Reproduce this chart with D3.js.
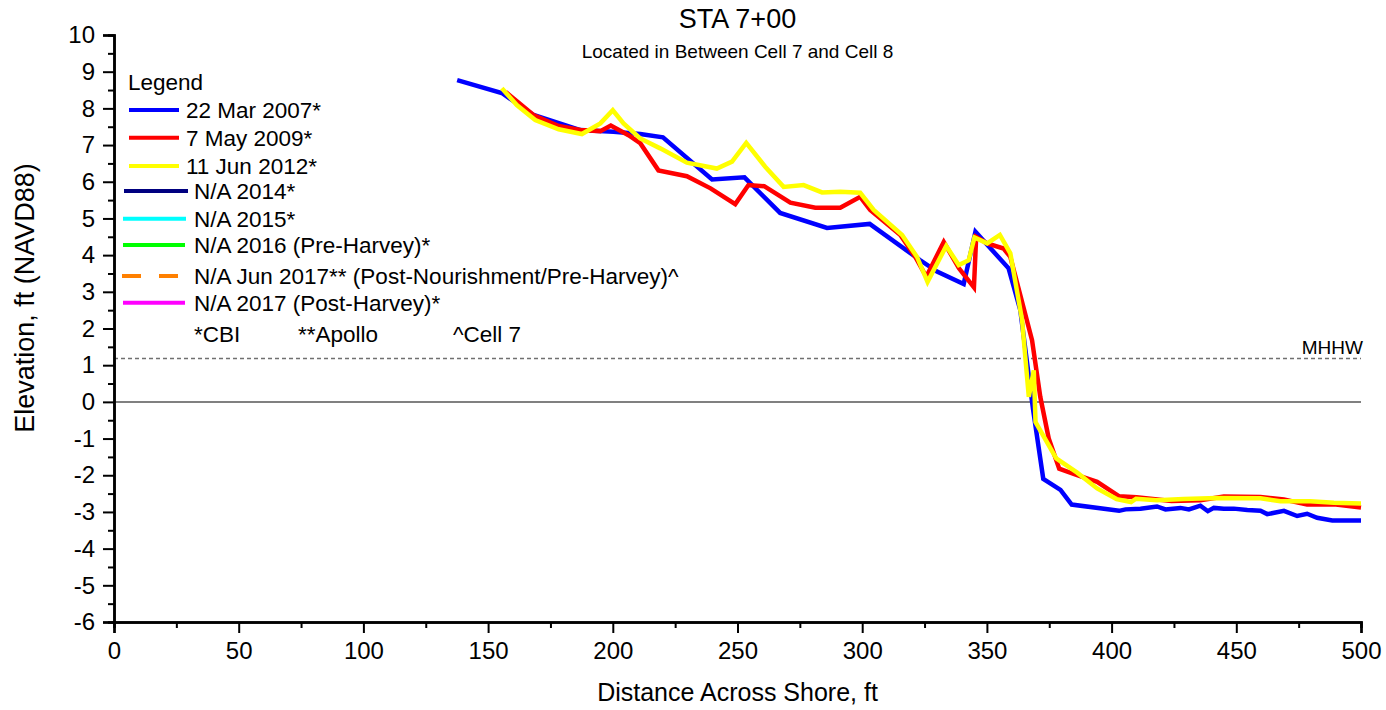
<!DOCTYPE html>
<html>
<head>
<meta charset="utf-8">
<script src="https://cdn.jsdelivr.net/npm/d3@7"></script>
<style>
  html, body { margin: 0; padding: 0; background: #fff; }
  svg { display: block; font-family: "Liberation Sans", Arial, sans-serif; }
</style>
</head>
<body>
<svg id="chart" width="1386" height="710"></svg>
<script>
// Beach profile survey, STA 7+00
const xTicks = [0, 50, 100, 150, 200, 250, 300, 350, 400, 450, 500];
const yTicks = [-6, -5, -4, -3, -2, -1, 0, 1, 2, 3, 4, 5, 6, 7, 8, 9, 10];
const mhhw = 1.18;

const dist2007 = [137.6,155.5,168.2,187,200.3,211,220.1,239.8,252.8,267.1,285.9,303,323.3,330,340.7,345.4,358.7,363.4,368.5,372.6,379.5,384,403,405.6,411.6,418.2,421.6,427.6,431,435.6,438.6,441,445,449,454.4,459.7,462.4,469.1,474.4,478.4,482.4,488.5,500];
const elev2007 = [8.77,8.42,7.82,7.41,7.36,7.30,7.21,6.06,6.12,5.15,4.74,4.85,3.86,3.55,3.21,4.64,3.64,2.5,-0.2,-2.1,-2.40,-2.80,-2.97,-2.93,-2.91,-2.85,-2.93,-2.89,-2.93,-2.83,-2.98,-2.89,-2.91,-2.91,-2.95,-2.97,-3.06,-2.97,-3.11,-3.05,-3.16,-3.23,-3.23];

const dist2009 = [157,168.2,178.3,187,195,199.2,206.3,211,218.3,229.7,239.2,249.1,254.4,260.7,271.2,281.2,291.2,299.2,303.2,315.3,321.3,325.7,332.7,338.8,344.8,345.7,350.1,356.7,359.4,368.1,371.4,374.8,379,386.2,394.2,402.9,410,424,435.6,445,459.7,469.1,478.4,489.1,500];
const elev2009 = [8.45,7.82,7.52,7.41,7.38,7.53,7.27,7.05,6.31,6.15,5.82,5.39,5.91,5.88,5.43,5.29,5.29,5.59,5.23,4.55,3.95,3.41,4.36,3.64,3.12,4.50,4.32,4.18,3.95,1.68,0.14,-1.0,-1.82,-2.0,-2.18,-2.57,-2.60,-2.70,-2.68,-2.58,-2.59,-2.66,-2.80,-2.79,-2.88];

const dist2012 = [155.5,161.5,168.9,178.3,187.6,195,200,204.3,211,219,229.7,241.7,247.8,253.5,261.1,268.5,276.5,283.9,291.2,299.2,304.6,316,322,326.2,333.7,338.7,342.7,345,350.1,355.2,359.4,364.1,366.8,368.8,369.5,377.8,386.2,394.2,402,407.8,409.8,418.2,428.9,442.3,459.7,467.7,479.7,489.1,500];
const elev2012 = [8.55,8.09,7.68,7.43,7.30,7.59,7.95,7.59,7.18,6.91,6.52,6.36,6.55,7.06,6.41,5.86,5.91,5.71,5.73,5.70,5.23,4.55,3.95,3.27,4.25,3.73,3.86,4.48,4.32,4.55,4.05,2.23,0.14,0.86,-0.55,-1.54,-1.93,-2.36,-2.65,-2.73,-2.64,-2.68,-2.65,-2.62,-2.63,-2.71,-2.71,-2.75,-2.77];

const seriesNames = ["22 Mar 2007*", "7 May 2009*", "11 Jun 2012*", "N/A 2014*", "N/A 2015*",
  "N/A 2016 (Pre-Harvey)*", "N/A Jun 2017** (Post-Nourishment/Pre-Harvey)^", "N/A 2017 (Post-Harvey)*"];
const seriesColors = ["#0000ff", "#ff0000", "#ffff00", "#000080", "#00ffff", "#00ff00", "#ff8000", "#ff00ff"];
const seriesDist = [dist2007, dist2009, dist2012, [], [], [], [], []];
const seriesElev = [elev2007, elev2009, elev2012, [], [], [], [], []];
const sourceNotes = ["*CBI", "**Apollo", "^Cell 7"];

const svg = d3.select("#chart");
const plotLeft = 114, plotRight = 1361, plotTop = 35, plotBottom = 622;

const x = d3.scaleLinear().domain([0, 500]).range([plotLeft, plotRight]);
const y = d3.scaleLinear().domain([-6, 10]).range([plotBottom, plotTop]);

// titles
svg.append("text").attr("x", (plotLeft + plotRight) / 2).attr("y", 28).attr("text-anchor", "middle")
  .attr("font-size", 27).text("STA 7+00");
svg.append("text").attr("x", (plotLeft + plotRight) / 2).attr("y", 58).attr("text-anchor", "middle")
  .attr("font-size", 19).text("Located in Between Cell 7 and Cell 8");

// reference lines
svg.append("line").attr("x1", x(0)).attr("x2", x(500)).attr("y1", y(0)).attr("y2", y(0))
  .attr("stroke", "#808080").attr("stroke-width", 2);
svg.append("line").attr("x1", x(0)).attr("x2", x(500)).attr("y1", y(mhhw)).attr("y2", y(mhhw))
  .attr("stroke", "#707070").attr("stroke-width", 1.5).attr("stroke-dasharray", "4,3");
svg.append("text").attr("x", x(500) + 2).attr("y", y(mhhw) - 5).attr("text-anchor", "end")
  .attr("font-size", 19).text("MHHW");

// profiles
const line = d3.line().x(d => x(d[0])).y(d => y(d[1]));
seriesNames.forEach((name, i) => {
  const pts = seriesDist[i].map((d, j) => [d, seriesElev[i][j]]);
  if (!pts.length) return;
  svg.append("path").datum(pts).attr("d", line).attr("fill", "none")
    .attr("stroke", seriesColors[i]).attr("stroke-width", 4.5)
    .attr("stroke-linejoin", "miter").attr("stroke-miterlimit", 3);
});

// axes
const fontSize = 24;
const fmt = d => String(d);
const xAxis = svg.append("g").attr("transform", `translate(0,${plotBottom})`)
  .call(d3.axisBottom(x).tickValues(xTicks).tickSize(11).tickPadding(9).tickFormat(fmt));
const yAxis = svg.append("g").attr("transform", `translate(${plotLeft},0)`)
  .call(d3.axisLeft(y).tickValues(yTicks).tickSize(11).tickPadding(8).tickFormat(fmt));
// minor ticks
svg.append("g").attr("transform", `translate(0,${plotBottom})`)
  .call(d3.axisBottom(x).tickValues(d3.range(25, 500, 50)).tickSize(6).tickFormat(""));
svg.append("g").attr("transform", `translate(${plotLeft},0)`)
  .call(d3.axisLeft(y).tickValues(d3.range(-5.5, 10, 1)).tickSize(6).tickFormat(""));
svg.selectAll(".domain").attr("stroke", "#000").attr("stroke-width", 2.5);
svg.selectAll(".tick line").attr("stroke", "#000").attr("stroke-width", 2);
svg.selectAll(".tick text").attr("font-size", fontSize).attr("fill", "#000")
  .attr("font-family", "'Liberation Sans', Arial, sans-serif");

svg.append("text").attr("x", (plotLeft + plotRight) / 2).attr("y", 701).attr("text-anchor", "middle")
  .attr("font-size", 25).text("Distance Across Shore, ft");
svg.append("text").attr("transform", `translate(34,${298}) rotate(-90)`).attr("text-anchor", "middle")
  .attr("font-size", 27).text("Elevation, ft (NAVD88)");

// legend
const lg = svg.append("g").attr("font-size", 22.5);
lg.append("text").attr("x", 128).attr("y", 90).text("Legend");
const rowY = [110, 137.7, 166, 191, 218.7, 245, 276, 302.7];
const sampleX = [[129, 179, 186], [129, 179, 186], [129, 179, 186], [124, 188, 194], [123, 186, 194], [123, 185, 194], [122, 178, 194], [123, 185, 194]];
seriesNames.forEach((name, i) => {
  const [x1, x2, tx] = sampleX[i];
  lg.append("line").attr("x1", x1).attr("x2", x2).attr("y1", rowY[i]).attr("y2", rowY[i])
    .attr("stroke", seriesColors[i]).attr("stroke-width", 4)
    .attr("stroke-dasharray", i === 6 ? "19,18" : null);
  lg.append("text").attr("x", tx).attr("y", rowY[i] + 8).text(name);
});
const noteX = [194, 298, 453];
sourceNotes.forEach((t, i) => lg.append("text").attr("x", noteX[i]).attr("y", 342).text(t));
</script>
</body>
</html>
